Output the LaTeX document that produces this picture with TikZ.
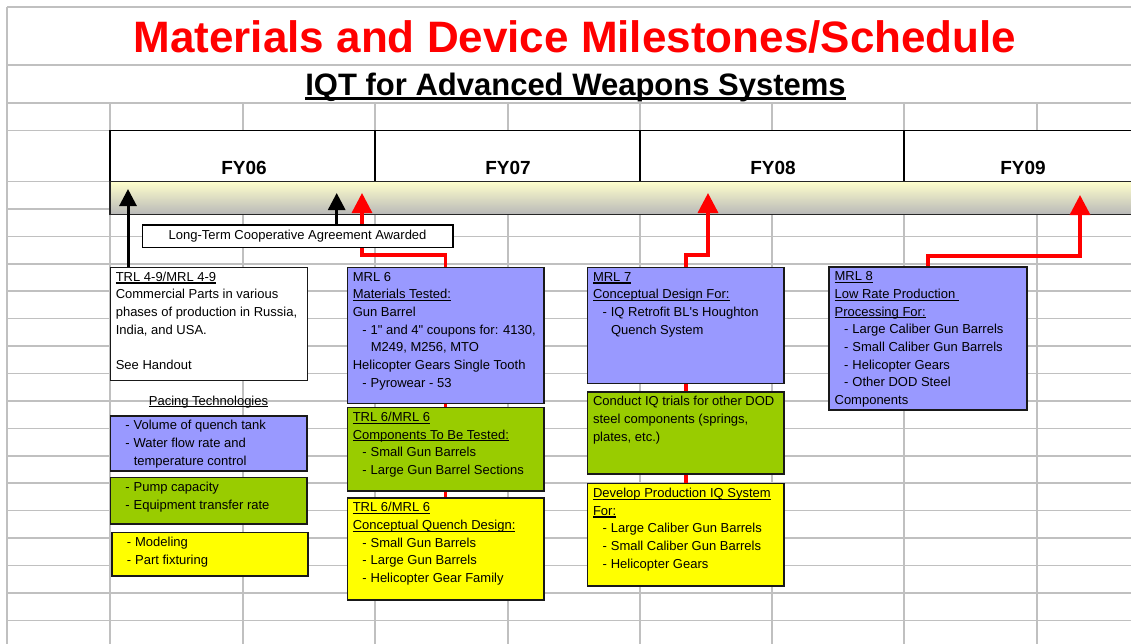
\documentclass[tikz,border=0pt]{standalone}
\usepackage{fontspec}
\setmainfont{Liberation Sans}
\newfontfamily\rawsans{Liberation Sans}[Ligatures=TeXOff]
\usetikzlibrary{arrows.meta}
\definecolor{gridc}{HTML}{C0C0C0}
\definecolor{bblue}{HTML}{9999FF}
\definecolor{bgreen}{HTML}{99CC00}
\definecolor{byellow}{HTML}{FFFF00}
\definecolor{bandtop}{HTML}{FFFFCC}
\definecolor{bandbot}{HTML}{B8B8B8}
\definecolor{tred}{HTML}{FF0000}
\newcommand\uln[1]{\setbox0=\hbox{#1}\rlap{\rule[-2.4pt]{\wd0}{1.2pt}}\box0}
\newcommand\ulthick[1]{\setbox0=\hbox{#1}\rlap{\rule[-4.6pt]{\wd0}{2.6pt}}\box0}
\newcommand\itm[1]{\mbox{\hspace*{9.5pt}-\hspace*{4pt}#1}}
\newcommand\cnt[1]{\mbox{\hspace*{18pt}#1}}
\newcommand\dq{{\rawsans"}}
\newcommand\bx[3]{\parbox[t][\dimexpr#2pt-3pt\relax][t]{\dimexpr#1pt-11pt\relax}{\strut#3}}
\tikzset{
  gridline/.style={draw=gridc, line width=1.5pt},
  box/.style={draw=black!90, line width=1.6pt, anchor=north west, inner xsep=5.5pt, inner ysep=1.5pt, font=\fontsize{13}{17.7}\selectfont},
  fylabel/.style={anchor=base, font=\fontsize{19}{22}\selectfont\bfseries},
  barrow/.style={draw=black, line width=3pt, -{Triangle[width=17pt,length=17pt]}},
  rline/.style={draw=tred, line width=3.4pt},
  rarrow/.style={rline, -{Triangle[width=20pt,length=20pt]}},
}
\begin{document}
\begin{tikzpicture}[x=1pt,y=-1pt]
\useasboundingbox (0,0) rectangle (1131,643);
\clip (0,0) rectangle (1131,643);
\fill[white] (0,0) rectangle (1131,643);
% grid
\foreach \y in {7,65,103,130.5} \draw[gridline] (7,\y) -- (1140,\y);
\foreach \k in {0,...,16} \draw[gridline] (7,181.5+27.43*\k) -- (1140,181.5+27.43*\k);
\draw[gridline] (7,7) -- (7,650);
\foreach \x in {110,243,375,508,640,772,904,1037} \draw[gridline] (\x,103) -- (\x,650);
% titles
\node[anchor=base, text=tred, font=\fontsize{44}{50}\selectfont\bfseries] (title) at (575,52) {Materials and Device Milestones/Schedule};
\node[anchor=base, font=\fontsize{31}{36}\selectfont\bfseries] (subtitle) at (575.5,95) {\ulthick{IQT for Advanced Weapons Systems}};
% timeline
\draw[fill=white, line width=1.8pt] (110,130.5) rectangle (1145,181.5);
\foreach \x in {375,640,904} \draw[line width=1.8pt] (\x,130.5) -- (\x,181.5);
\node[fylabel] (fy06) at (244,174) {FY06};
\node[fylabel] (fy07) at (508,174) {FY07};
\node[fylabel] (fy08) at (773,174) {FY08};
\node[fylabel] (fy09) at (1023,174) {FY09};
\shade[top color=bandtop, bottom color=bandbot] (110,181.5) rectangle (1145,214.5);
\draw[line width=1.6pt, black!85] (110,181.5) rectangle (1145,214.5);
% boxes
\node[box, fill=white] (b1) at (109.5,266.5) {\bx{197}{113}{\uln{TRL 4-9/MRL 4-9}\\ Commercial Parts in various\\ \mbox{phases of production in Russia,}\\ India, and USA.\\[17.7pt] See Handout}};
\node[anchor=base, font=\fontsize{13}{17.7}\selectfont] (pace) at (208.5,405) {\uln{Pacing Technologies}};
\node[box, fill=bblue] (p1) at (109.5,415) {\bx{196.5}{55}{\itm{Volume of quench tank}\\ \itm{Water flow rate and}\\ \cnt{temperature control}}};
\node[box, fill=bgreen] (p2) at (109.5,476.7) {\bx{196.5}{46.3}{\itm{Pump capacity}\\ \itm{Equipment transfer rate}}};
\node[box, fill=byellow] (p3) at (111,531.7) {\bx{196}{43.3}{\itm{Modeling}\\ \itm{Part fixturing}}};
% column 2
\node[box, fill=bblue] (b6) at (346.5,266.5) {\bx{196.5}{136.2}{MRL 6\\ \uln{Materials Tested:}\\ Gun Barrel\\ \itm{1\dq{} and 4\dq{} coupons for: 4130,}\\ \cnt{M249, M256, MTO}\\ \mbox{Helicopter Gears Single Tooth}\\ \itm{Pyrowear - 53}}};
\node[box, fill=bgreen] (b7) at (346.5,406.7) {\bx{196.5}{83.3}{\uln{TRL 6/MRL 6}\\ \uln{Components To Be Tested:}\\ \itm{Small Gun Barrels}\\ \itm{Large Gun Barrel Sections}}};
\node[box, fill=byellow] (b8) at (346.5,497) {\bx{196.5}{102}{\uln{TRL 6/MRL 6}\\ \uln{Conceptual Quench Design:}\\ \itm{Small Gun Barrels}\\ \itm{Large Gun Barrels}\\ \itm{Helicopter Gear Family}}};
% column 3
\node[box, fill=bblue] (b9) at (586.7,266.5) {\bx{196.6}{116.2}{\uln{MRL 7}\\ \uln{Conceptual Design For:}\\ \itm{IQ Retrofit BL{\rawsans'}s Houghton}\\ \cnt{Quench System}}};
\node[box, fill=bgreen] (b10) at (586.7,391) {\bx{196.6}{82.3}{\mbox{Conduct IQ trials for other DOD}\\ steel components (springs,\\ plates, etc.)}};
\node[box, fill=byellow] (b11) at (586.7,482.7) {\bx{196.6}{102.3}{\mbox{\uln{Develop Production IQ System}}\\ \uln{For:}\\ \itm{Large Caliber Gun Barrels}\\ \itm{Small Caliber Gun Barrels}\\ \itm{Helicopter Gears}}};
% column 4
\node[box, fill=bblue] (b12) at (828.3,266) {\bx{197.7}{143}{\uln{MRL 8}\\ \uln{Low Rate Production\ }\\ \uln{Processing For:}\\ \itm{Large Caliber Gun Barrels}\\ \itm{Small Caliber Gun Barrels}\\ \itm{Helicopter Gears}\\ \itm{Other DOD Steel}\\ Components}};
% connectors
\coordinate (tipA) at (128,189);
\coordinate (tipB) at (336.7,193);
\coordinate (tipC) at (362,193);
\coordinate (tipD) at (708,193);
\coordinate (tipE) at (1080,195);
\draw[rline] (b6.south) -- (b7.north);
\draw[rline] (b7.south) -- (b8.north);
\draw[rline] (b9.south) -- (b10.north);
\draw[rline] (b10.south) -- (b11.north);
\draw[rarrow] (b6.north) -- ++(0,-11.5) -| (tipC);
\draw[rarrow] (b9.north) -- ++(0,-11.5) -| (tipD);
\draw[rarrow] (b12.north) -- ++(0,-10) -| (tipE);
\draw[barrow] (b1.north -| tipA) -- (tipA);
\node[draw=black, line width=1.5pt, fill=white, anchor=north west, minimum width=310.3pt, minimum height=22.7pt, inner sep=0pt, font=\fontsize{13}{17.7}\selectfont] (lt) at (141.7,224) {Long-Term Cooperative Agreement Awarded};
\draw[barrow] (lt.north -| tipB) -- (tipB);
\end{tikzpicture}
\end{document}
